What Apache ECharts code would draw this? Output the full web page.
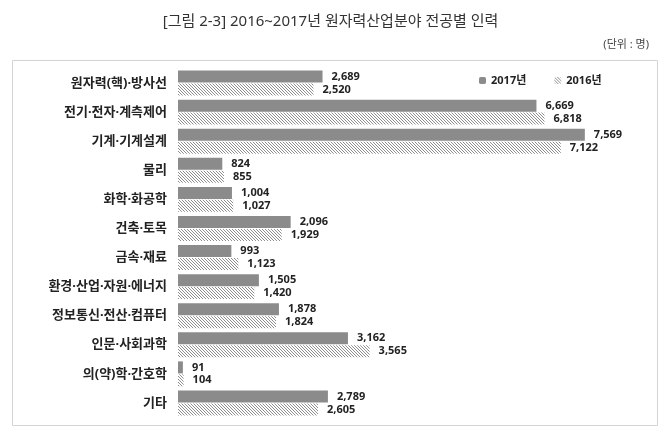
<!DOCTYPE html>
<html><head><meta charset="utf-8">
<script src="https://cdn.jsdelivr.net/npm/echarts@6/dist/echarts.min.js"></script>
<style>html,body{margin:0;padding:0;background:#fff}#c{width:661px;height:430px}</style>
</head><body><div id="c"></div>
<script>
const categories = ['원자력(핵)·방사선','전기·전자·계측제어','기계·기계설계','물리','화학·화공학','건축·토목','금속·재료','환경·산업·자원·에너지','정보통신·전산·컴퓨터','인문·사회과학','의(약)학·간호학','기타'];
const values2017 = [2689, 6669, 7569, 824, 1004, 2096, 993, 1505, 1878, 3162, 91, 2789];
const values2016 = [2520, 6818, 7122, 855, 1027, 1929, 1123, 1420, 1824, 3565, 104, 2605];
const seriesNames = ['2017년', '2016년'];

function hatch() {
  const c = document.createElement('canvas');
  c.width = 3; c.height = 3;
  const g = c.getContext('2d');
  g.fillStyle = '#fff'; g.fillRect(0,0,3,3);
  g.strokeStyle = '#8e8e8e'; g.lineWidth = 1;
  g.beginPath();
  g.moveTo(-1,-1); g.lineTo(4,4);
  g.moveTo(-1,2); g.lineTo(1,4);
  g.moveTo(2,-1); g.lineTo(4,1);
  g.stroke();
  return c;
}
const fmt = v => v.toLocaleString('en-US');
const font = '"Noto Sans", "Noto Sans CJK KR", sans-serif';
const chart = echarts.init(document.getElementById('c'));
chart.setOption({
  backgroundColor: '#fff',
  animation: false,
  textStyle: {fontFamily: font},
  title: [
    {text: '[그림 2-3] 2016~2017년 원자력산업분야 전공별 인력', left: 'center', top: 9,
     textStyle: {fontFamily: font, fontSize: 15, fontWeight: 'normal', color: '#333'}},
    {text: '(단위 : 명)', right: 7, top: 34,
     textStyle: {fontFamily: font, fontSize: 11, fontWeight: 'normal', color: '#444'}}
  ],
  graphic: [{type: 'rect', left: 10, top: 58, shape: {width: 645, height: 365},
    style: {fill: 'none', stroke: '#d4d4d4', lineWidth: 1}, z: -1}],
  legend: {
    top: 70, left: 474, itemWidth: 7, itemHeight: 7, itemGap: 28,
    textStyle: {fontFamily: font, fontSize: 11, fontWeight: 'bold', color: '#222'},
    data: seriesNames
  },
  grid: {left: 178, width: 430, top: 68.5, height: 349},
  xAxis: {type: 'value', min: 0, max: 8000, show: false},
  yAxis: {type: 'category', data: categories, inverse: true,
    axisLine: {show: false}, axisTick: {show: false},
    axisLabel: {margin: 11, fontFamily: font, fontSize: 13, fontWeight: 'bold', color: '#222'}},
  series: [
    {name: seriesNames[0], type: 'bar', data: values2017, barWidth: 12, barGap: '8%',
     itemStyle: {color: '#8b8b8b'},
     label: {show: true, position: 'right', distance: 9, formatter: p => fmt(p.value),
       fontFamily: font, fontSize: 11, fontWeight: 'bold', color: '#222'}},
    {name: seriesNames[1], type: 'bar', data: values2016, barWidth: 12,
     itemStyle: {color: {image: hatch(), repeat: 'repeat'}},
     label: {show: true, position: 'right', distance: 9, formatter: p => fmt(p.value),
       fontFamily: font, fontSize: 11, fontWeight: 'bold', color: '#222'}}
  ]
});
</script></body></html>
